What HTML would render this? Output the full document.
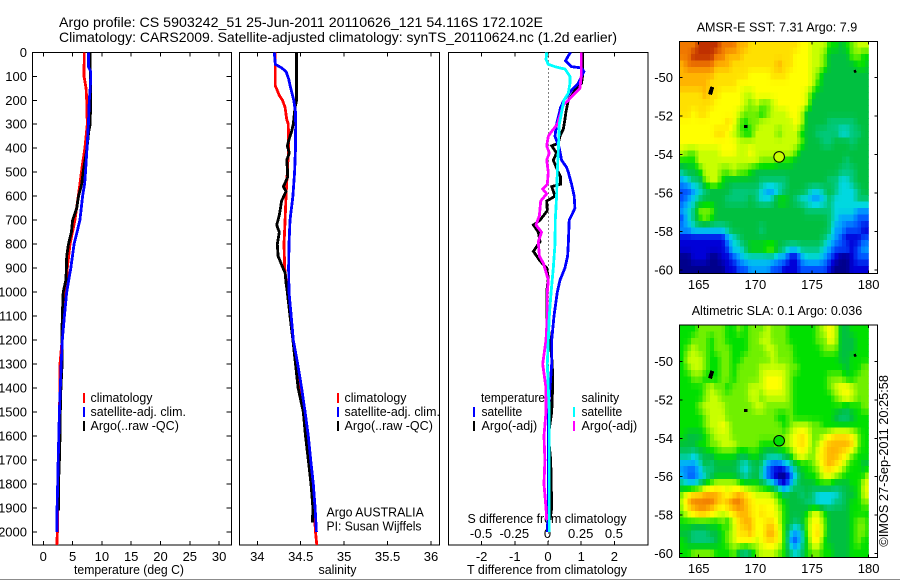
<!DOCTYPE html>
<html>
<head>
<meta charset="utf-8">
<title>Argo profile</title>
<style>
html,body{margin:0;padding:0;background:#fff;}
svg{display:block;}
text{font-family:"Liberation Sans",sans-serif;font-size:13px;fill:#000;}
</style>
</head>
<body>
<svg id="chart" xmlns="http://www.w3.org/2000/svg" width="900" height="580" viewBox="0 0 900 580">
<defs>
<clipPath id="clip-sst"><rect x="679.3" y="41.3" width="189.4" height="232"/></clipPath>
<clipPath id="clip-sla"><rect x="679.3" y="325" width="189.4" height="232.3"/></clipPath>
<clipPath id="clip-p1"><rect x="32.3" y="52.3" width="199" height="492.7"/></clipPath>
<clipPath id="clip-p2"><rect x="239.5" y="52.3" width="200" height="492.7"/></clipPath>
<clipPath id="clip-p3"><rect x="448.3" y="52.3" width="200" height="492.7"/></clipPath>
</defs>
</svg>
<script>
// ---------- profile data ----------
const depthTicks = [0,100,200,300,400,500,600,700,800,900,1000,1100,1200,1300,1400,1500,1600,1700,1800,1900,2000];

const tempTicks = [0,5,10,15,20,25,30];
const tempClimDepth = [0,100,150,200,300,400,450,500,550,600,700,800,900,1000,1100,1200,1300,1400,1500,1700,1900,2000,2055];
const tempClim = [7.0,6.95,7.3,7.4,7.5,7.1,6.8,6.5,6.25,5.97,5.4,4.55,4.1,3.8,3.4,3.2,2.85,2.85,2.75,2.55,2.4,2.4,2.3];
const tempSatDepth = [0,60,80,100,150,200,300,400,500,550,600,700,800,900,1000,1100,1200,1300,1400,1500,1700,1800,1900,2000];
const tempSat = [7.7,7.7,8.1,8.1,8.0,7.85,7.7,7.45,7.2,7.05,6.7,6.25,5.25,4.7,4.0,3.6,3.25,3.05,2.9,2.75,2.55,2.45,2.35,2.35];
const tempArgoDepth = [0,100,150,300,330,400,500,550,600,650,700,750,800,850,900,950,1000,1100,1200,1300,1400,1500,1600,1700,1800,1900,1910];
const tempArgo = [8.0,8.0,8.1,8.0,7.75,7.45,6.8,6.55,6.0,5.7,5.0,4.8,4.3,4.0,3.95,3.85,3.4,3.25,3.15,3.2,3.0,2.9,2.85,2.75,2.6,2.6,2.6];

const salTicks = [34,34.5,35,35.5,36];
const salTickLabels = ['34','34.5','35','35.5','36'];
const salClimDepth = [0,60,140,150,180,200,230,280,300,400,500,600,700,800,900,1000,1100,1200,1300,1400,1500,1600,1700,1800,1900,2000,2055];
const salClim = [34.207,34.207,34.207,34.22,34.253,34.29,34.32,34.338,34.357,34.36,34.345,34.33,34.32,34.307,34.315,34.345,34.377,34.415,34.454,34.49,34.54,34.56,34.607,34.625,34.653,34.67,34.685];
const salSatDepth = [0,50,65,80,110,150,200,250,300,400,500,600,700,800,900,1000,1100,1200,1300,1400,1500,1600,1700,1800,1900,2000];
const salSat = [34.196,34.207,34.28,34.33,34.36,34.385,34.42,34.44,34.442,34.44,34.43,34.41,34.376,34.365,34.36,34.365,34.39,34.415,34.465,34.51,34.55,34.587,34.615,34.645,34.665,34.68];
const salArgoDepth = [0,200,230,300,330,360,390,420,450,480,520,560,580,620,680,720,750,800,850,880,920,960,1000,1100,1200,1300,1400,1500,1600,1700,1800,1900,1960];
const salArgo = [34.453,34.453,34.434,34.415,34.395,34.368,34.345,34.368,34.338,34.345,34.35,34.3,34.33,34.28,34.253,34.223,34.253,34.23,34.24,34.273,34.32,34.33,34.345,34.377,34.41,34.44,34.47,34.53,34.555,34.587,34.618,34.64,34.635];

const dtTicks = [-2,-1,0,1,2];
const dsTicks = [-0.5,-0.25,0,0.25,0.5];
const dsTickLabels = ['-0.5','-0.25','0','0.25','0.5'];
const dtSatDepth = [0,15,35,60,65,80,100,130,150,200,230,300,350,400,450,480,500,550,600,650,680,700,800,850,900,950,1000,1100,1200,1300,1400,1500,1700,1900,2000];
const dtSat = [0.68,0.61,0.53,0.71,1.01,1.08,1.01,0.91,0.76,0.48,0.38,0.26,0.21,0.34,0.41,0.56,0.61,0.71,0.79,0.81,0.71,0.64,0.61,0.59,0.51,0.36,0.28,0.18,0.11,0.11,0.06,0.01,0.01,0.01,-0.02];
const dtArgoDepth = [0,100,130,150,200,250,280,320,350,380,390,420,450,500,520,550,560,600,620,660,700,720,750,790,830,870,900,940,1000,1100,1200,1300,1400,1500,1600,1700,1900,1950];
const dtArgo = [1.04,1.04,1.01,0.86,0.61,0.54,0.51,0.46,0.36,0.31,0.11,0.26,0.16,0.31,0.38,0.38,0.11,0.21,-0.04,-0.02,-0.24,-0.44,-0.29,-0.24,-0.44,-0.24,-0.04,0.01,-0.04,-0.04,0.06,0.13,0.14,0.11,0.01,0.08,0.11,0.06];
const dsSatDepth = [0,30,50,60,70,100,130,170,200,300,400,500,600,700,800,900,1000,1100,1200,1300,1400,1500,1700,1900,2000];
const dsSat = [-0.01,-0.015,0.0025,0.053,0.128,0.165,0.165,0.153,0.12,0.085,0.078,0.07,0.065,0.055,0.053,0.04,0.023,0.01,0.0025,-0.005,0.0025,0.01,0.01,0.01,0.01];
const dsArgoDepth = [0,100,150,170,200,220,300,330,350,390,420,450,500,550,570,590,620,680,720,750,790,850,880,950,1000,1100,1200,1300,1400,1500,1600,1700,1800,1900,1950];
const dsArgo = [0.25,0.25,0.24,0.203,0.153,0.115,0.07,0.028,0.0025,-0.01,0.01,-0.01,0.0025,-0.005,-0.04,-0.01,-0.055,-0.065,-0.09,-0.048,-0.073,-0.065,-0.035,0.0025,-0.005,-0.005,-0.015,-0.04,-0.015,-0.015,-0.03,-0.023,-0.03,-0.015,-0.01];

// ---------- map data (colour level per 0.5 degree cell, north to south) ----------
const lonTicks = [165,170,175,180];
const latTicks = [-50,-52,-54,-56,-58,-60];
const sstLevels = [
[13,13,13,14,14,14,14,13,13,13,12,12,11,11,11,11,11,11,11,11,11,10,10,9,9,9,7,7,6,7,8,9,9,9],
[13,13,14,14,14,14,13,13,12,12,12,11,11,11,11,11,11,11,11,11,10,10,10,9,9,8,6,6,6,6,8,8,7,7],
[12,13,13,13,13,13,12,12,12,11,11,11,11,11,11,11,11,12,11,11,10,10,10,9,9,8,6,6,6,6,6,7,7,6],
[12,12,12,12,12,12,11,11,11,11,11,11,10,10,10,10,11,11,11,10,10,10,10,9,8,6,6,6,6,6,6,6,6,6],
[12,12,12,12,12,11,11,11,11,11,10,10,10,10,10,10,10,10,10,10,10,10,10,9,7,6,6,6,6,6,6,6,6,6],
[11,11,11,11,12,11,11,10,10,10,10,9,9,10,10,10,10,10,10,10,10,10,9,7,6,6,6,6,6,6,6,6,6,6],
[11,11,11,11,11,11,10,10,10,10,10,9,8,9,8,8,9,10,10,10,10,10,9,6,6,6,6,6,6,6,6,6,6,6],
[11,11,10,11,11,10,10,10,10,10,9,8,8,8,7,8,9,9,9,10,10,9,6,6,6,6,6,6,6,6,6,6,6,6],
[10,10,10,10,10,10,10,10,11,10,8,7,8,8,9,9,9,9,9,9,10,9,6,6,6,6,5,5,5,5,5,6,6,6],
[10,10,10,10,10,10,11,11,10,9,8,7,7,9,9,9,9,8,9,9,9,7,6,6,5,5,5,5,4,4,5,5,6,6],
[10,10,10,10,10,10,10,10,10,10,9,9,9,9,9,9,9,9,9,9,9,8,6,6,6,5,5,6,6,6,5,6,6,6],
[9,8,8,9,9,9,9,10,10,10,9,9,10,9,9,9,9,9,9,9,8,6,6,6,6,6,6,6,6,6,6,6,6,6],
[7,7,7,9,9,9,9,9,9,9,9,9,9,9,8,8,8,7,7,7,6,6,6,6,6,6,6,6,6,5,6,6,6,6],
[5,6,6,7,9,9,9,8,8,9,8,8,7,6,6,6,6,6,6,6,6,6,6,6,6,6,6,6,5,5,5,6,6,6],
[3,4,5,5,8,9,9,7,6,6,6,6,6,6,5,5,5,5,5,6,6,6,6,6,6,6,5,5,4,4,5,6,6,6],
[2,2,3,4,5,6,6,6,6,5,5,5,5,5,4,3,3,4,5,6,6,6,5,4,4,5,6,5,4,4,4,5,6,6],
[2,3,4,5,6,6,6,6,5,5,5,5,6,5,4,4,5,7,7,6,5,4,4,3,3,4,5,4,4,4,4,5,5,5],
[3,4,5,8,8,8,6,6,6,6,6,6,6,6,6,6,6,6,6,6,6,6,5,5,5,5,5,4,4,4,4,3,3,3],
[2,4,5,7,8,7,6,6,6,6,6,6,6,6,6,6,6,6,6,6,6,6,6,6,6,6,5,4,3,3,3,2,2,2],
[3,3,4,4,4,4,4,4,5,6,6,6,6,6,5,6,6,6,6,6,6,6,6,6,6,6,5,3,3,2,2,2,1,1],
[1,1,1,1,1,1,1,1,3,4,5,6,6,6,6,6,6,6,6,6,6,6,6,6,6,5,4,3,2,1,1,1,2,2],
[1,1,1,1,1,1,1,1,2,4,4,5,7,7,7,8,8,6,5,4,4,5,5,5,5,4,3,2,2,2,1,2,3,3],
[0,0,1,1,1,0,0,1,1,2,3,4,4,4,4,4,4,3,3,1,1,3,4,4,4,3,2,1,0,0,1,2,2,2],
[0,0,0,0,0,0,0,0,1,1,2,2,3,3,3,3,2,2,1,1,1,2,2,2,2,2,1,0,0,0,1,1,1,1]
];
const slaLevels = [
[7,7,7,8,8,8,8,8,7,7,8,7,8,8,8,9,8,8,8,7,7,7,7,7,8,9,10,9,6,6,7,7,7,7],
[7,7,8,8,8,7,8,8,7,7,7,7,8,8,9,9,8,8,8,7,7,7,7,7,8,8,10,9,6,6,6,7,7,7],
[7,8,9,8,8,7,8,8,8,7,7,7,8,8,8,9,9,8,8,8,7,7,7,7,7,8,8,8,6,6,6,7,7,7],
[7,9,9,9,8,7,7,8,8,7,7,8,8,8,8,8,9,8,8,8,7,7,7,7,7,7,7,7,6,6,7,7,7,7],
[7,8,9,9,8,7,7,8,8,7,8,8,8,8,9,9,9,9,9,8,8,7,7,7,7,7,7,7,7,6,7,7,8,8],
[7,7,8,8,7,7,7,8,8,7,8,8,8,8,9,10,10,10,9,8,7,7,7,7,7,7,8,8,8,7,7,8,8,8],
[7,7,7,7,8,9,8,8,7,8,8,8,9,9,9,10,10,10,9,8,7,7,7,7,7,7,8,9,10,10,9,8,8,8],
[7,7,7,7,8,9,9,8,8,8,8,8,9,9,8,9,9,9,9,8,7,7,7,7,7,7,7,8,9,10,9,8,8,8],
[7,7,7,8,9,9,9,9,8,8,8,8,8,9,9,8,8,8,8,8,7,7,7,7,7,7,7,7,7,6,7,7,8,8],
[7,7,7,7,8,9,9,9,8,8,8,8,8,8,8,8,8,7,7,8,7,7,7,7,7,7,7,6,5,5,6,7,7,7],
[7,7,7,7,8,9,9,10,9,8,8,8,8,8,8,8,8,8,7,8,9,9,9,8,8,7,7,7,7,7,7,7,7,7],
[7,6,6,6,7,8,9,9,9,8,8,8,8,8,8,8,8,8,8,9,10,11,10,8,8,9,10,11,11,11,10,8,7,7],
[6,6,6,7,7,8,8,9,9,9,8,8,8,8,7,7,7,8,8,9,10,11,10,8,9,11,12,12,12,12,11,8,7,7],
[5,5,4,5,6,6,7,7,7,7,6,6,7,7,6,5,5,5,6,7,9,10,9,8,10,11,12,12,11,10,8,7,7,7],
[3,3,3,4,6,5,6,6,6,6,5,4,5,6,5,3,2,2,3,4,6,7,7,8,9,11,12,11,10,8,7,7,6,6],
[3,2,2,3,4,5,6,6,6,6,5,4,5,6,4,2,1,0,0,2,4,6,7,7,8,10,10,9,8,7,7,7,7,9],
[5,4,4,5,7,8,9,9,9,9,8,7,7,7,6,5,4,2,1,3,5,6,6,6,7,7,7,6,6,6,7,7,9,10],
[8,10,11,11,12,12,12,11,10,11,12,11,10,9,9,9,8,7,5,6,6,5,6,5,4,4,4,4,5,6,6,7,9,10],
[9,12,13,13,13,13,12,11,12,13,13,12,11,10,10,10,10,8,7,6,6,6,5,5,4,4,4,5,5,6,7,7,8,8],
[8,10,11,12,12,11,10,9,10,11,12,12,11,10,11,10,10,9,7,6,6,6,7,9,9,7,6,6,6,6,7,7,7,7],
[7,7,7,7,7,7,7,8,7,9,11,12,12,10,10,11,11,9,7,6,5,6,8,10,10,8,6,6,6,6,7,8,8,7],
[6,6,5,5,5,6,6,7,8,9,11,11,12,10,10,12,12,10,7,4,3,4,8,10,11,8,6,6,6,6,7,8,8,7],
[7,6,5,5,5,5,6,7,8,9,10,10,10,9,10,11,11,10,7,3,2,4,7,10,10,7,6,6,6,6,7,8,7,7],
[7,7,8,8,8,8,7,7,7,8,6,5,6,8,9,9,9,8,7,5,4,5,7,8,8,7,7,6,6,6,7,7,7,7]
];
const islandLons = [[166.0,166.2],[169.0,169.3],[178.7,178.9]];
const islandLats = [[-50.89,-50.5],[-52.55,-52.55],[-49.72,-49.66]];
const profileLon = 172.1;
const profileLat = -54.13;
const sstProfileLevel = 9;
const slaProfileLevel = 7;

// ---------- axis functions ----------
const yDepth = d => 52.3 + d * 0.2398;
const xTemp = t => 43.3 + t * 5.86;
const xSal = s => 257.3 + (s - 34) * 86.85;
const xDT = t => 548 + t * 33.2;
const xDS = s => 548 + s * 132.8;
const xLon = l => 698.7 + (l - 165) * 11.33;
const ySst = l => 77.3 + (-50 - l) * 19.27;
const ySla = l => 361.3 + (-50 - l) * 19.24;
const palette = [[0,0,140],[0,0,216],[0,80,255],[0,160,255],[0,216,224],[0,200,120],[0,192,64],[0,224,0],[112,240,0],[200,255,0],[255,255,0],[255,224,0],[255,180,0],[240,120,0],[192,48,0]];
function levelColour(v) {
  const t = Math.max(0, Math.min(palette.length - 1, v));
  const i = Math.min(palette.length - 2, Math.floor(t));
  const f = t - i;
  const c = palette[i].map((p, k) => Math.round(p + (palette[i + 1][k] - p) * f));
  return 'rgb(' + c.join(',') + ')';
}

const svg = document.getElementById('chart');
const NS = 'http://www.w3.org/2000/svg';
function mk(tag, attrs, name, parent) {
  const el = document.createElementNS(NS, tag);
  for (const k in attrs) el.setAttribute(k, attrs[k]);
  
  
  (parent || svg).appendChild(el);
  return el;
}
function txt(s, x, y, name, opts) {
  const o = Object.assign({x: x, y: y}, opts || {});
  const el = mk('text', o, name);
  el.textContent = s;
  return el;
}
function fit(w) { return {textLength: w, lengthAdjust: 'spacingAndGlyphs'}; }
function line(x1, y1, x2, y2, name, color, w) {
  return mk('line', {x1: x1, y1: y1, x2: x2, y2: y2, stroke: color || '#000', 'stroke-width': w || 1, 'shape-rendering': 'crispEdges'}, name);
}
function frame(x, y, w, h, name) {
  mk('rect', {x: x, y: y, width: w, height: h, fill: 'none', stroke: '#000', 'stroke-width': 1, 'shape-rendering': 'crispEdges'}, name);
}
function series(xs, ds, xf, color, name, clip) {
  const pts = xs.map((v, i) => xf(v).toFixed(1) + ',' + yDepth(ds[i]).toFixed(1)).join(' ');
  mk('polyline', {points: pts, fill: 'none', stroke: color, 'stroke-width': 2.8, 'stroke-linejoin': 'miter', 'shape-rendering': 'crispEdges', 'clip-path': 'url(#' + clip + ')'}, name);
}
function legendBar(x, y, color, name) {
  mk('rect', {x: x, y: y, width: 2, height: 10, fill: color, 'shape-rendering': 'crispEdges'}, name);
}

// ---------- titles ----------
txt('Argo profile: CS 5903242_51 25-Jun-2011 20110626_121 54.116S 172.102E', 59, 27, 'figure-title-line-1', Object.assign({style: 'font-size:14px'}, fit(484)));
txt('Climatology: CARS2009. Satellite-adjusted climatology: synTS_20110624.nc (1.2d earlier)', 59, 42, 'figure-title-line-2', Object.assign({style: 'font-size:14px'}, fit(558)));

// ---------- panel frames and ticks ----------
const top_ = 52.3, bot = 545;
const panels = [[32.3,231.3],[239.5,439.5],[448.3,648]];
panels.forEach((p, i) => frame(p[0], top_, p[1]-p[0], bot-top_, 'profile-panel-' + (i+1) + '-frame'));
depthTicks.forEach(d => {
  const y = yDepth(d);
  line(32.3, y, 37, y, 'depth-tick-left', '#000');
  line(226.5, y, 231.3, y, 'depth-tick-right', '#000');
  txt(String(d), 27, y + 4.5, 'depth-tick-label', {'text-anchor': 'end'});
});
tempTicks.forEach(t => {
  const x = xTemp(t);
  line(x, top_, x, top_ + 4, 'temperature-tick-top');
  line(x, bot, x, bot - 4, 'temperature-tick-bottom');
  txt(String(t), x, 561, 'temperature-tick-label', {'text-anchor': 'middle'});
});
salTicks.forEach((s, i) => {
  const x = xSal(s);
  line(x, top_, x, top_ + 4, 'salinity-tick-top');
  line(x, bot, x, bot - 4, 'salinity-tick-bottom');
  txt(salTickLabels[i], x, 561, 'salinity-tick-label', {'text-anchor': 'middle'});
});
dtTicks.forEach(t => {
  const x = xDT(t);
  line(x, top_, x, top_ + 4, 'temperature-difference-tick-top');
  line(x, bot, x, bot - 4, 'temperature-difference-tick-bottom');
  txt(String(t), x, 561, 'temperature-difference-tick-label', {'text-anchor': 'middle'});
});
dsTicks.forEach((s, i) => {
  txt(dsTickLabels[i], xDS(s) - 0.5, 538, 'salinity-difference-tick-label', {'text-anchor': 'middle'});
});
txt('temperature (deg C)', 74, 574, 'temperature-axis-title', fit(110));
txt('salinity', 318.5, 574, 'salinity-axis-title', fit(38));
txt('T difference from climatology', 467, 574, 'temperature-difference-axis-title', fit(160));
txt('S difference from climatology', 467.5, 523, 'salinity-difference-axis-title', fit(159));

// ---------- zero line ----------
mk('line', {x1: 548.6, y1: top_, x2: 548.6, y2: bot, stroke: '#000', 'stroke-width': 1, 'stroke-dasharray': '1 3', 'shape-rendering': 'crispEdges'}, 'zero-difference-line');

// ---------- series ----------
series(tempClim, tempClimDepth, xTemp, '#ff0000', 'temperature-climatology-line', 'clip-p1');
series(tempArgo, tempArgoDepth, xTemp, '#000000', 'temperature-argo-line', 'clip-p1');
series(tempSat, tempSatDepth, xTemp, '#0000ff', 'temperature-satellite-line', 'clip-p1');
series(salClim, salClimDepth, xSal, '#ff0000', 'salinity-climatology-line', 'clip-p2');
series(salArgo, salArgoDepth, xSal, '#000000', 'salinity-argo-line', 'clip-p2');
series(salSat, salSatDepth, xSal, '#0000ff', 'salinity-satellite-line', 'clip-p2');
series(dtArgo, dtArgoDepth, xDT, '#000000', 'temperature-difference-argo-line', 'clip-p3');
series(dtSat, dtSatDepth, xDT, '#0000ff', 'temperature-difference-satellite-line', 'clip-p3');
series(dsArgo, dsArgoDepth, xDS, '#ff00ff', 'salinity-difference-argo-line', 'clip-p3');
series(dsSat, dsSatDepth, xDS, '#00ffff', 'salinity-difference-satellite-line', 'clip-p3');

// ---------- legends ----------
const legendRows = [402, 416, 430];
const legend1Labels = ['climatology', 'satellite-adj. clim.', 'Argo(..raw -QC)'];
const legend1Widths = [62, 95.4, 88.4];
const legendColors = ['#ff0000', '#0000ff', '#000000'];
[[83, 90.5, 'temperature'], [337, 344.5, 'salinity']].forEach(c => {
  legend1Labels.forEach((s, i) => {
    legendBar(c[0], legendRows[i] - 9, legendColors[i], c[2] + '-legend-swatch-' + (i+1));
    txt(s, c[1], legendRows[i], c[2] + '-legend-label-' + (i+1), fit(legend1Widths[i]));
  });
});
txt('Argo AUSTRALIA', 326.5, 516.5, 'float-country-label', fit(97.3));
txt('PI: Susan Wijffels', 326.5, 530.5, 'principal-investigator-label', fit(95));
txt('temperature', 481, 402, 'difference-legend-temperature-heading', fit(64));
txt('satellite', 481.5, 416, 'difference-legend-temperature-satellite-label', fit(40.7));
txt('Argo(-adj)', 481.5, 430, 'difference-legend-temperature-argo-label', fit(55.7));
txt('salinity', 581.5, 402, 'difference-legend-salinity-heading', fit(37.7));
txt('satellite', 581.5, 416, 'difference-legend-salinity-satellite-label', fit(40.7));
txt('Argo(-adj)', 581.5, 430, 'difference-legend-salinity-argo-label', fit(55.7));
legendBar(473, 407, '#0000ff', 'difference-legend-temperature-satellite-swatch');
legendBar(473, 421, '#000000', 'difference-legend-temperature-argo-swatch');
legendBar(573, 407, '#00ffff', 'difference-legend-salinity-satellite-swatch');
legendBar(573, 421, '#ff00ff', 'difference-legend-salinity-argo-swatch');

// ---------- maps ----------
function sampleLevel(levels, r, c) {
  const rr = Math.max(0, Math.min(levels.length - 1, r));
  const cc = Math.max(0, Math.min(levels[0].length - 1, c));
  const r0 = Math.floor(rr), c0 = Math.floor(cc);
  const r1 = Math.min(levels.length - 1, r0 + 1), c1 = Math.min(levels[0].length - 1, c0 + 1);
  const fr = rr - r0, fc = cc - c0;
  return (levels[r0][c0] * (1 - fc) + levels[r0][c1] * fc) * (1 - fr) + (levels[r1][c0] * (1 - fc) + levels[r1][c1] * fc) * fr;
}
function drawMap(levels, yf, topPx, botPx, clip, key, title, titleX, titleY, titleW, labelY, profileLevel) {
  const g = mk('g', {'clip-path': 'url(#' + clip + ')'}, key + '-heatmap');
  const firstLon = 163.33, firstLat = -48.12, step = 1 / 3;
  const rows = Math.ceil(levels.length * 1.5) + 1, cols = Math.ceil(levels[0].length * 1.5);
  for (let r = 0; r < rows; r++) {
    for (let c = 0; c < cols; c++) {
      const v = sampleLevel(levels, (r + 0.5) / 1.5 - 0.5, (c + 0.5) / 1.5 - 0.5);
      const x0 = xLon(firstLon + c * step), y0 = yf(firstLat - r * step);
      const rect = document.createElementNS(NS, 'rect');
      rect.setAttribute('x', x0.toFixed(2));
      rect.setAttribute('y', y0.toFixed(2));
      rect.setAttribute('width', (xLon(firstLon + (c + 1) * step) - x0 + 0.6).toFixed(2));
      rect.setAttribute('height', (yf(firstLat - (r + 1) * step) - y0 + 0.6).toFixed(2));
      rect.setAttribute('fill', levelColour(v));
      rect.setAttribute('shape-rendering', 'crispEdges');
      
      
      g.appendChild(rect);
    }
  }
  islandLons.forEach((lons, i) => {
    mk('polyline', {points: lons.map((l, j) => xLon(l).toFixed(1) + ',' + yf(islandLats[i][j]).toFixed(1)).join(' '), fill: 'none', stroke: '#000', 'stroke-width': i === 0 ? 4 : 3, 'shape-rendering': 'crispEdges'}, key + '-island-' + (i+1), g);
  });
  mk('circle', {cx: xLon(profileLon), cy: yf(profileLat), r: 5.3, fill: levelColour(profileLevel), stroke: '#000', 'stroke-width': 1}, key + '-profile-location-marker');
  frame(679.3, topPx, 198, botPx - topPx, key + '-map-frame');
  lonTicks.forEach(l => {
    const x = xLon(l);
    line(x, topPx, x, topPx + 3, key + '-longitude-tick-top');
    line(x, botPx, x, botPx - 3, key + '-longitude-tick-bottom');
    txt(String(l), x, labelY, key + '-longitude-tick-label', {'text-anchor': 'middle'});
  });
  latTicks.forEach(l => {
    const y = yf(l);
    line(679.3, y, 682.3, y, key + '-latitude-tick-left');
    line(874.3, y, 877.3, y, key + '-latitude-tick-right');
    txt(String(l), 673, y + 4.5, key + '-latitude-tick-label', {'text-anchor': 'end'});
  });
  txt(title, titleX, titleY, key + '-map-title', fit(titleW));
}
drawMap(sstLevels, ySst, 41.3, 273.3, 'clip-sst', 'sst', 'AMSR-E SST: 7.31 Argo: 7.9', 696.7, 31.5, 160.5, 289, sstProfileLevel);
drawMap(slaLevels, ySla, 325, 557.3, 'clip-sla', 'sla', 'Altimetric SLA: 0.1 Argo: 0.036', 691.7, 315, 170.5, 573, slaProfileLevel);

txt('\u00a9IMOS 27-Sep-2011 20:25:58', 0, 0, 'timestamp-credit', Object.assign({transform: 'translate(888,546.7) rotate(-90)'}, fit(171.7)));

// bottom edge of the image
mk('rect', {x: 0, y: 579, width: 900, height: 1, fill: '#8c8c8c', 'shape-rendering': 'crispEdges'}, 'image-bottom-edge');
</script>
</body>
</html>
